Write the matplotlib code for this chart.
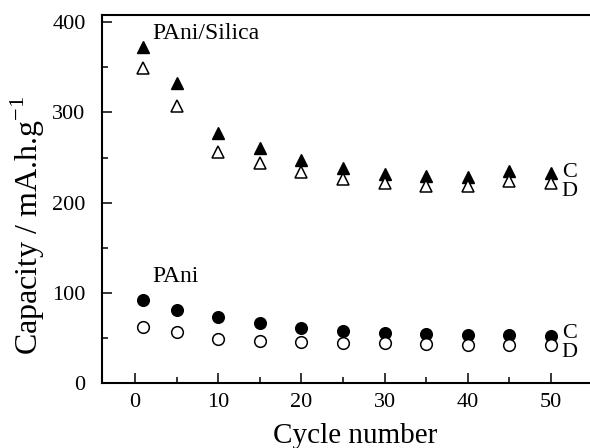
import matplotlib
matplotlib.use('Agg')
import matplotlib.pyplot as plt
from matplotlib.ticker import MultipleLocator

# values
cycles = [1, 5, 10, 15, 20, 25, 30, 35, 40, 45, 50]
silica_charge = [372, 333, 277, 260, 247, 238, 232, 229, 228, 235, 233]
silica_discharge = [349, 307, 256, 244, 234, 226, 222, 218, 218, 224, 222]
pani_charge = [92, 81, 73, 67, 61, 58, 55, 54, 53, 53, 52]
pani_discharge = [62, 56, 48.5, 46.5, 45.5, 44.5, 44, 43, 42.5, 42.5, 42.5]

plt.rcParams['font.family'] = 'Liberation Serif'
plt.rcParams['mathtext.fontset'] = 'custom'
plt.rcParams['mathtext.rm'] = 'Liberation Serif'

fig = plt.figure(figsize=(5.9, 4.48), dpi=100)
ax = fig.add_axes([102.3 / 590, 65 / 448, 1 - 102.3 / 590, 368 / 448])

# filled = charge (C), open = discharge (D)
ax.plot(cycles, silica_charge, '^', color='black', markersize=9, linestyle='none')
ax.plot(cycles, silica_discharge, '^', markerfacecolor='white', markeredgecolor='black',
        markeredgewidth=1.1, markersize=9, linestyle='none')
ax.plot(cycles, pani_charge, 'o', color='black', markersize=8.4, linestyle='none')
ax.plot(cycles, pani_discharge, 'o', markerfacecolor='white', markeredgecolor='black',
        markeredgewidth=1.1, markersize=8.4, linestyle='none')

ax.set_xlim(-3.93, 54.7)
ax.set_ylim(0, 408)
ax.xaxis.set_major_locator(MultipleLocator(10))
ax.xaxis.set_minor_locator(MultipleLocator(5))
ax.yaxis.set_major_locator(MultipleLocator(100))
ax.yaxis.set_minor_locator(MultipleLocator(50))
ax.tick_params(which='both', direction='in', width=1.1, labelsize=16)
ax.tick_params(which='major', length=7)
ax.tick_params(which='minor', length=4)
ax.tick_params(axis='x', which='both', top=False, pad=7)
ax.tick_params(axis='y', which='both', right=False, pad=12)
ax.spines['right'].set_visible(False)
for side in ['left', 'bottom', 'top']:
    ax.spines[side].set_linewidth(1.5)

# annotations
ax.text(2.1, 381.8, 'PAni/Silica', fontsize=17, va='baseline', ha='left')
ax.text(2.1, 112.4, 'PAni', fontsize=17, va='baseline', ha='left')
ax.text(51.3, 228.3, 'C', fontsize=16, va='baseline', ha='left')
ax.text(51.3, 207.5, 'D', fontsize=16, va='baseline', ha='left')
ax.text(51.3, 49.6, 'C', fontsize=16, va='baseline', ha='left')
ax.text(51.3, 28.5, 'D', fontsize=16, va='baseline', ha='left')

fig.text(355.5 / 590, 5 / 448, 'Cycle number', fontsize=21, ha='center', va='baseline')
fig.text(28 / 590, 1 - 225 / 448, 'Capacity / mA.h.g$^{-1}$', fontsize=23,
         rotation=90, ha='center', va='center')

fig.savefig('out.png', dpi=100)
